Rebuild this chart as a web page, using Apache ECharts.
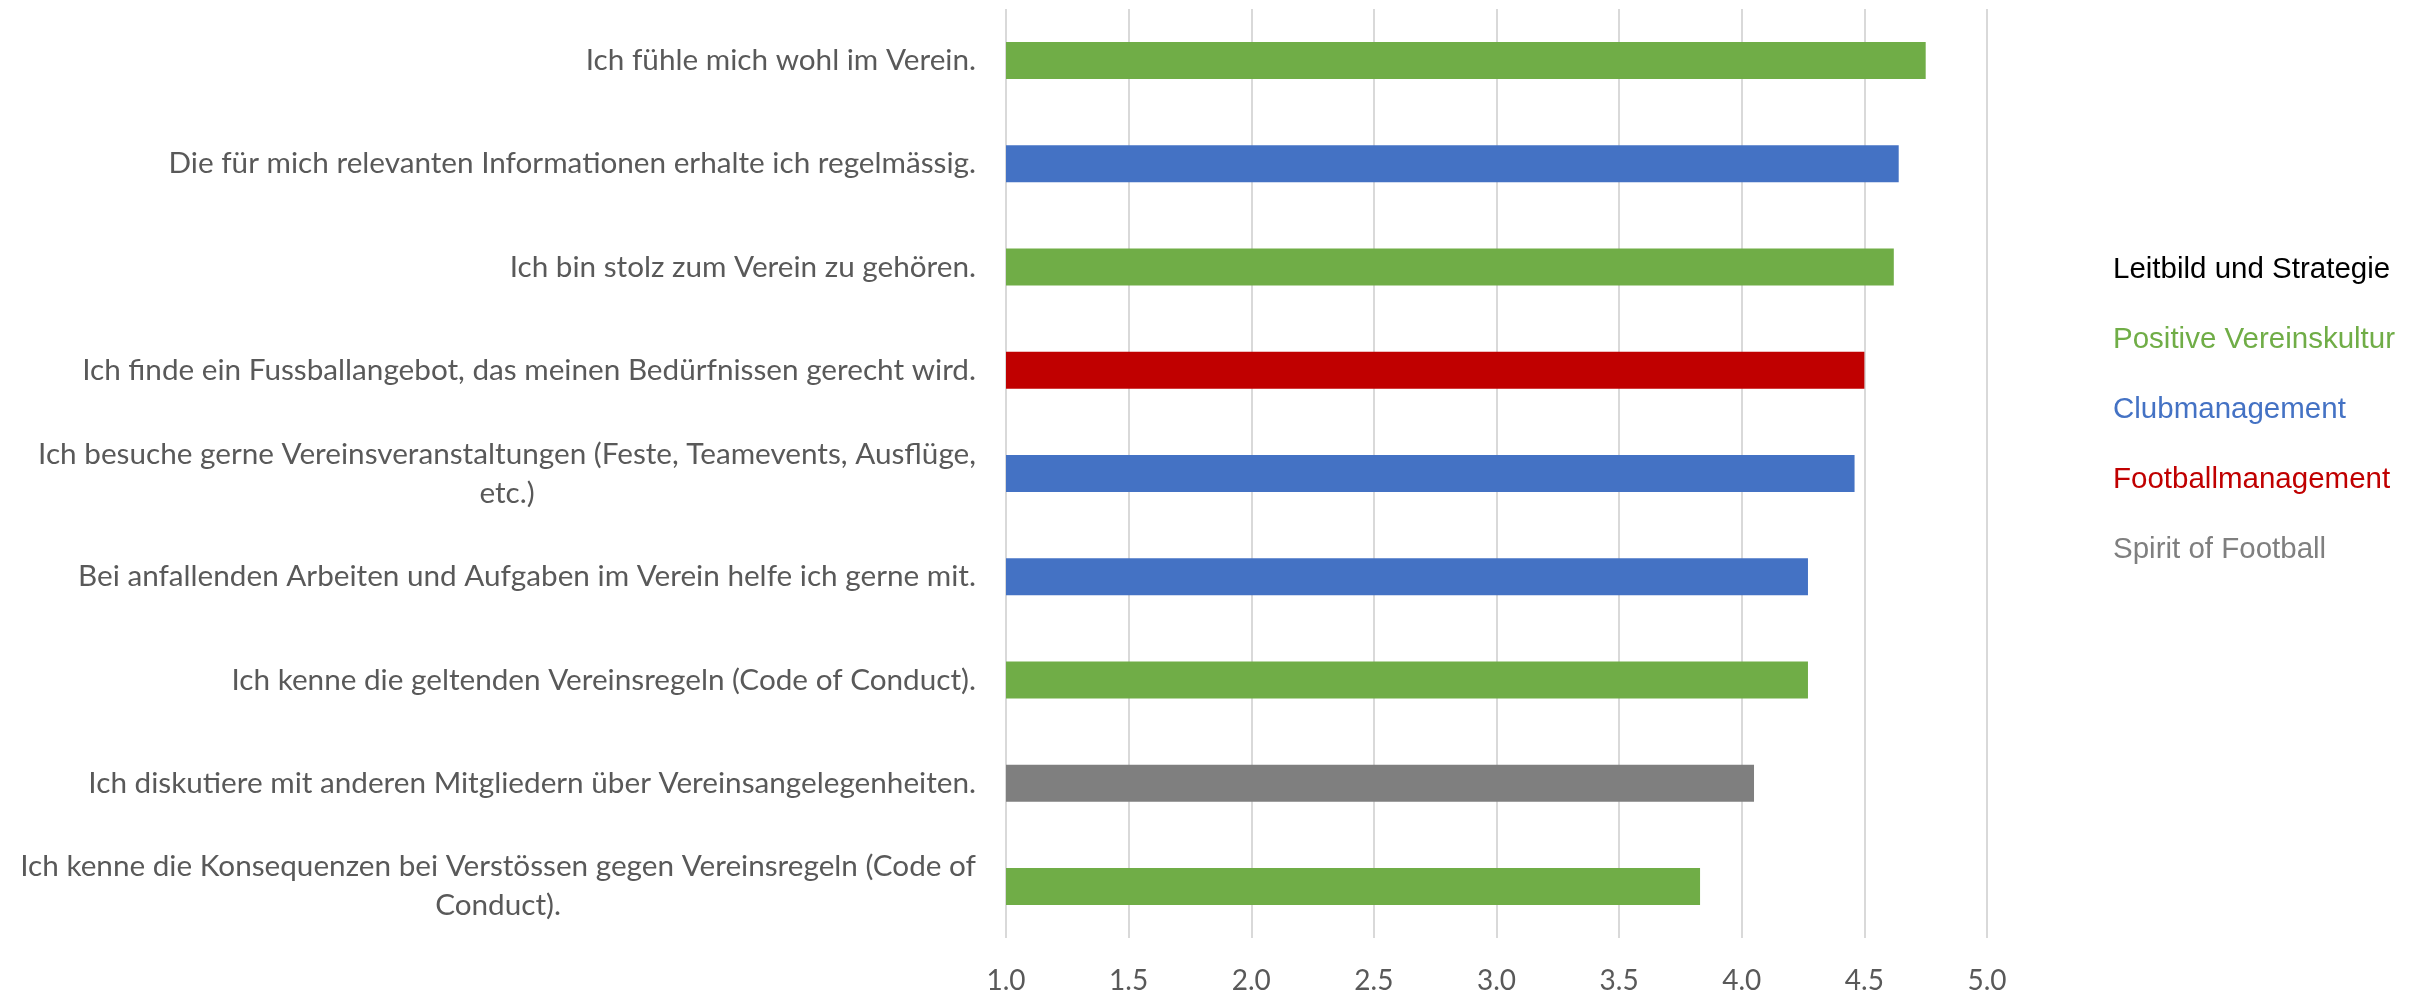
<!DOCTYPE html>
<html>
<head>
<meta charset="utf-8">
<script src="https://cdn.jsdelivr.net/npm/echarts@6/dist/echarts.min.js"></script>
<style>
  html, body { margin: 0; padding: 0; background: #fff; }
  #chart { width: 2422px; height: 995px; }
</style>
</head>
<body>
<div id="chart"></div>
<script>
// questions, top to bottom
const questions = [
  'Ich fühle mich wohl im Verein.',
  'Die für mich relevanten Informationen erhalte ich regelmässig.',
  'Ich bin stolz zum Verein zu gehören.',
  'Ich finde ein Fussballangebot, das meinen Bedürfnissen gerecht wird.',
  'Ich besuche gerne Vereinsveranstaltungen (Feste, Teamevents, Ausflüge,\netc.)',
  'Bei anfallenden Arbeiten und Aufgaben im Verein helfe ich gerne mit.',
  'Ich kenne die geltenden Vereinsregeln (Code of Conduct).',
  'Ich diskutiere mit anderen Mitgliedern über Vereinsangelegenheiten.',
  'Ich kenne die Konsequenzen bei Verstössen gegen Vereinsregeln (Code of\nConduct).'
]
const scores = [4.75, 4.64, 4.62, 4.50, 4.46, 4.27, 4.27, 4.05, 3.83]
const questionGroup = [
  'Positive Vereinskultur',
  'Clubmanagement',
  'Positive Vereinskultur',
  'Footballmanagement',
  'Clubmanagement',
  'Clubmanagement',
  'Positive Vereinskultur',
  'Spirit of Football',
  'Positive Vereinskultur'
]
const groupNames = ['Leitbild und Strategie', 'Positive Vereinskultur', 'Clubmanagement', 'Footballmanagement', 'Spirit of Football']
const groupColors = ['#000000', '#70AD47', '#4472C4', '#C00000', '#7F7F7F']

const labelFont = 'Lato, "Open Sans", sans-serif'
const labelColor = '#595959'

// one series per group, stacked so every bar sits in the middle of its row
const series = groupNames.map(function (name, gi) {
  return {
    name: name,
    type: 'bar',
    stack: 'all',
    barWidth: 37,
    itemStyle: { color: groupColors[gi] },
    data: scores.map(function (v, i) {
      return questionGroup[i] === name ? v : '-'
    })
  }
})

const chart = echarts.init(document.getElementById('chart'), null, { renderer: 'canvas' })

chart.setOption({
  animation: false,
  backgroundColor: '#ffffff',
  grid: { left: 1006, right: 435, top: 9, bottom: 57, containLabel: false },
  legend: {
    orient: 'vertical',
    left: 2103,
    top: 250,
    itemWidth: 0,
    itemHeight: 30,
    itemGap: 40,
    icon: 'rect',
    selectedMode: false,
    data: groupNames.map(function (n, gi) {
      return { name: n, textStyle: { color: groupColors[gi] } }
    }),
    textStyle: {
      fontFamily: '"Liberation Sans", Arial, sans-serif',
      fontSize: 29.5,
      lineHeight: 30
    }
  },
  xAxis: {
    type: 'value',
    min: 1,
    max: 5,
    interval: 0.5,
    axisLine: { show: false },
    axisTick: { show: false },
    splitLine: { show: true, lineStyle: { color: '#D9D9D9', width: 2 } },
    axisLabel: {
      margin: 29,
      color: labelColor,
      fontFamily: labelFont,
      fontSize: 28,
      formatter: function (v) { return v.toFixed(1) }
    }
  },
  yAxis: {
    type: 'category',
    inverse: true,
    data: questions,
    axisLine: { show: false },
    axisTick: { show: false },
    axisLabel: {
      margin: 30,
      align: 'right',
      interval: 0,
      formatter: function (v) {
        return v.split('\n').map(function (l) { return '{c|' + l + '}' }).join('\n')
      },
      rich: {
        c: {
          align: 'center',
          color: labelColor,
          fontFamily: labelFont,
          fontSize: 29.7,
          lineHeight: 39
        }
      }
    }
  },
  series: series
})
</script>
</body>
</html>
